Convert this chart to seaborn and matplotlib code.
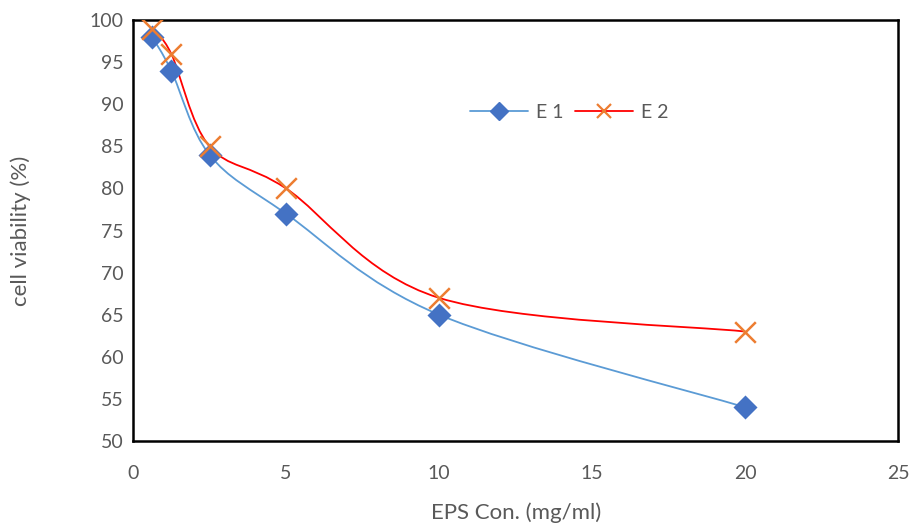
import numpy as np
import pandas as pd
import matplotlib
matplotlib.use("Agg")
import matplotlib.pyplot as plt
import seaborn as sns
from matplotlib.path import Path
from matplotlib.patches import PathPatch
from matplotlib.lines import Line2D

# data
conc = [0.625, 1.25, 2.5, 5, 10, 20]
e1 = [98, 94, 84, 77, 65, 54]
e2 = [99, 96, 85, 80, 67, 63]

GREY = "#595959"

def smooth_path(xs, ys):
    # excel-like smoothed line: catmull-rom bezier through the points
    p = np.column_stack([xs, ys]).astype(float)
    verts = [p[0]]
    codes = [Path.MOVETO]
    n = len(p)
    for i in range(n - 1):
        p0 = p[i - 1] if i > 0 else p[i]
        p3 = p[i + 2] if i + 2 < n else p[i + 1]
        c1 = p[i] + (p[i + 1] - p0) / 6
        c2 = p[i + 1] - (p3 - p[i]) / 6
        verts += [c1, c2, p[i + 1]]
        codes += [Path.CURVE4] * 3
    return Path(verts, codes)

sns.set_style("white")
plt.rcParams['font.family'] = ['Lato', 'DejaVu Sans']

fig = plt.figure(figsize=(9.11, 5.30), dpi=100)
ax = fig.add_axes([0.146, 0.168, 0.840, 0.794])

df = pd.DataFrame({"x": conc, "E 1": e1, "E 2": e2})

ax.add_patch(PathPatch(smooth_path(conc, e1), fill=False, edgecolor="#5B9BD5", lw=1.3, zorder=2))
ax.add_patch(PathPatch(smooth_path(conc, e2), fill=False, edgecolor="#FF0000", lw=1.3, zorder=2))

sns.scatterplot(data=df, x="x", y="E 1", marker="D", s=150, color="#4472C4",
                edgecolor="#4472C4", linewidth=0, ax=ax, zorder=3)
sns.scatterplot(data=df, x="x", y="E 2", marker="x", s=220, color="#ED7D31",
                linewidth=1.8, ax=ax, zorder=3)

ax.set_xlim(0, 25)
ax.set_ylim(50, 100)
ax.set_xticks(range(0, 26, 5))
ax.set_yticks(range(50, 101, 5))
ax.tick_params(axis="both", length=0, labelsize=14, labelcolor=GREY)
ax.tick_params(axis="x", pad=17)
ax.tick_params(axis="y", pad=7)
for s in ax.spines.values():
    s.set_color("black")
    s.set_linewidth(1.8)

ax.set_xlabel("EPS Con. (mg/ml)", fontsize=16, color=GREY, va="center")
ax.xaxis.set_label_coords(0.5, -0.17)
ax.set_ylabel("cell viability (%)", fontsize=16, color=GREY, va="center")
ax.yaxis.set_label_coords(-0.147, 0.5)

handles = [
    Line2D([], [], color="#5B9BD5", lw=1.3, marker="D", markersize=9,
           markerfacecolor="#4472C4", markeredgecolor="#4472C4"),
    Line2D([], [], color="#FF0000", lw=1.3, marker="x", markersize=10,
           markeredgecolor="#ED7D31", markeredgewidth=1.6),
]
leg = ax.legend(handles, ["E 1", "E 2"], loc="center", bbox_to_anchor=(0.57, 0.78),
                ncol=2, frameon=False, fontsize=14, handlelength=3.0,
                columnspacing=0.6, handletextpad=0.4)
for t in leg.get_texts():
    t.set_color(GREY)

fig.savefig("out.png", dpi=100)
